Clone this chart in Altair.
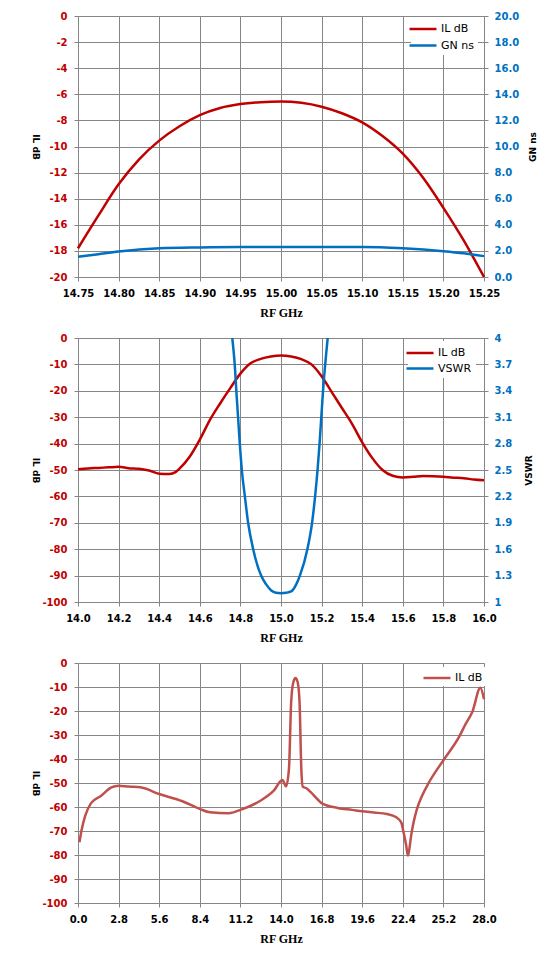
import altair as alt
import pandas as pd

# ---------------- data ----------------
# Chart 1: narrow band
f1 = [14.750, 14.775, 14.800, 14.825, 14.850, 14.875, 14.900, 14.925, 14.950, 14.975,
      15.000, 15.025, 15.050, 15.075, 15.100, 15.125, 15.150, 15.175, 15.200, 15.225, 15.250]
il1 = [-17.8, -15.3, -12.9, -11.0, -9.55, -8.45, -7.6, -7.05, -6.75, -6.6,
       -6.55, -6.65, -6.95, -7.45, -8.15, -9.2, -10.55, -12.4, -14.7, -17.2, -20.0]
fgn = [14.75, 14.775, 14.80, 14.85, 14.90, 14.95, 15.00, 15.05, 15.10, 15.15, 15.20, 15.225, 15.25]
gn = [1.55, 1.75, 1.95, 2.2, 2.27, 2.3, 2.3, 2.3, 2.3, 2.2, 1.98, 1.82, 1.6]

# Chart 2: medium band
f2 = [14.00, 14.05, 14.10, 14.15, 14.20, 14.25, 14.30, 14.35, 14.40, 14.45, 14.48, 14.50,
      14.55, 14.60, 14.65, 14.70, 14.75, 14.80, 14.85, 14.90, 14.95, 15.00, 15.05, 15.10,
      15.15, 15.20, 15.25, 15.30, 15.35, 15.40, 15.45, 15.50, 15.55, 15.60, 15.65, 15.70,
      15.75, 15.80, 15.85, 15.90, 15.95, 16.00]
il2 = [-49.7, -49.4, -49.2, -49.0, -48.8, -49.3, -49.5, -50.2, -51.4, -51.5, -50.8, -49.5,
       -45.0, -38.5, -31.0, -24.8, -19.0, -13.5, -9.6, -7.9, -7.0, -6.6, -7.0, -8.0,
       -10.0, -14.5, -20.5, -26.5, -32.5, -39.5, -45.5, -50.0, -52.2, -52.8, -52.6, -52.3,
       -52.4, -52.6, -52.9, -53.1, -53.6, -53.9]
fvs = [14.760, 14.772, 14.780, 14.797, 14.807, 14.822, 14.838, 14.863, 14.902, 14.927,
       14.952, 14.975, 15.000, 15.025, 15.050, 15.075, 15.093, 15.130, 15.153, 15.168,
       15.180, 15.190, 15.207, 15.230]
vswr = [4.0, 3.7, 3.4, 2.8, 2.5, 2.2, 1.9, 1.6, 1.3, 1.2,
        1.13, 1.105, 1.10, 1.105, 1.12, 1.2, 1.3, 1.6, 1.9, 2.2,
        2.5, 2.8, 3.4, 4.0]

# Chart 3: wide band
f3 = [0.1, 0.24, 0.5, 0.9, 1.6, 2.3, 2.8, 3.5, 4.3, 5.6, 7.2, 8.4, 9.1, 10.4, 11.2, 12.6,
      13.5, 14.1, 14.35, 14.55, 14.7, 14.85, 15.0, 15.15, 15.28, 15.4, 15.5, 15.75, 16.0,
      16.6, 16.8, 17.9, 18.9, 19.6, 20.4, 21.3, 21.95, 22.3, 22.45, 22.63, 22.75, 22.84,
      22.98, 23.15, 23.38, 23.73, 24.2, 25.2, 26.3, 26.7, 27.2, 27.75, 28.0]
il3 = [-74.7, -69.8, -63.6, -58.4, -55.3, -51.8, -51.1, -51.5, -51.8, -54.6, -57.6, -60.8,
       -62.2, -62.6, -61.2, -57.3, -53.2, -48.8, -51.4, -44.0, -16.4, -8.0, -6.3, -8.0,
       -16.4, -44.0, -51.5, -52.2, -53.5, -57.3, -58.4, -60.4, -61.2, -61.8, -62.3, -62.9,
       -64.3, -66.5, -70.5, -75.8, -80.2, -77.9, -71.7, -66.2, -60.8, -55.3, -49.8, -40.5,
       -30.6, -25.8, -20.3, -10.3, -15.1]

x1_ticks = [14.75, 14.80, 14.85, 14.90, 14.95, 15.00, 15.05, 15.10, 15.15, 15.20, 15.25]
x2_ticks = [14.0, 14.2, 14.4, 14.6, 14.8, 15.0, 15.2, 15.4, 15.6, 15.8, 16.0]
x3_ticks = [0.0, 2.8, 5.6, 8.4, 11.2, 14.0, 16.8, 19.6, 22.4, 25.2, 28.0]
y1_ticks = [-20, -18, -16, -14, -12, -10, -8, -6, -4, -2, 0]
y1r_ticks = [0, 2, 4, 6, 8, 10, 12, 14, 16, 18, 20]
y2_ticks = [-100, -90, -80, -70, -60, -50, -40, -30, -20, -10, 0]
y2r_ticks = [1, 1.3, 1.6, 1.9, 2.2, 2.5, 2.8, 3.1, 3.4, 3.7, 4]

# ---------------- style ----------------
RED = "#C00000"
BLUE = "#0070C0"
RED3 = "#C0504D"
GRID = "#868686"
LBL = "DejaVu Sans"
W = 406
H1, H2, H3 = 261, 264, 240
HYPHEN = "replace(datum.label, '\u2212', '-')"


def x_axis(values, fmt):
    return alt.Axis(values=values, format=fmt, grid=True, gridColor=GRID, gridWidth=1,
                    domainColor=GRID, tickColor=GRID, tickSize=4,
                    labelFont=LBL, labelFontSize=10, labelFontWeight="bold",
                    labelColor="black", labelPadding=7, labelFlush=False, labelOverlap=False,
                    title="RF GHz", titleFont="Liberation Serif", titleFontSize=12,
                    titleFontWeight="bold", titleColor="black", titlePadding=9)


def left_axis(values, fmt, h):
    return alt.Axis(orient="left", values=values, format=fmt, grid=True, gridColor=GRID,
                    gridWidth=1, domainColor=GRID, tickColor=GRID, tickSize=4,
                    labelFont=LBL, labelFontSize=10, labelFontWeight="bold",
                    labelColor=RED, labelPadding=7, labelOverlap=False, labelExpr=HYPHEN,
                    title="IL dB", titleFont=LBL, titleFontSize=9, titleFontWeight="bold",
                    titleColor="black", titleAngle=90, titleX=-43, titleY=h / 2,
                    titleAlign="center", titleBaseline="middle")


def right_axis(values, fmt, title, tx, h):
    return alt.Axis(orient="right", values=values, format=fmt, grid=False,
                    domainColor=GRID, tickColor=GRID, tickSize=4,
                    labelFont=LBL, labelFontSize=10, labelFontWeight="bold",
                    labelColor=BLUE, labelPadding=6, labelOverlap=False,
                    title=title, titleFont=LBL, titleFontSize=9, titleFontWeight="bold",
                    titleColor="black", titleAngle=270, titleX=tx, titleY=h / 2,
                    titleAlign="center", titleBaseline="middle")


def legend(x, y, pad, rowpad):
    return alt.Legend(orient="none", legendX=x, legendY=y, title=None,
                      symbolType="M-2,0H2", symbolSize=182, symbolStrokeWidth=2.5,
                      labelFont=LBL, labelFontSize=11, labelColor="black",
                      fillColor="white", padding=pad, rowPadding=rowpad, labelOffset=10)


# ---------------- chart 1 ----------------
d1a = pd.DataFrame({"f": f1, "v": il1, "s1": "IL dB"})
d1b = pd.DataFrame({"f": fgn, "v": gn, "s1": "GN ns"})
col1 = alt.Scale(domain=["IL dB", "GN ns"], range=[RED, BLUE])
xs1 = alt.Scale(domain=[14.75, 15.25], nice=False, zero=False)

c1a = alt.Chart(d1a).mark_line(strokeWidth=2.5, interpolate="monotone").encode(
    x=alt.X("f:Q", scale=xs1, axis=x_axis(x1_ticks, ".2f")),
    y=alt.Y("v:Q", scale=alt.Scale(domain=[-20, 0], nice=False), axis=left_axis(y1_ticks, "d", H1)),
    color=alt.Color("s1:N", scale=col1, legend=legend(333, 1, 4, 3.5)),
)
c1b = alt.Chart(d1b).mark_line(strokeWidth=2.5, interpolate="monotone").encode(
    x=alt.X("f:Q", scale=xs1),
    y=alt.Y("v:Q", scale=alt.Scale(domain=[0, 20], nice=False),
            axis=right_axis(y1r_ticks, ".1f", "GN ns", 48, H1)),
    color=alt.Color("s1:N", scale=col1),
)
ch1 = alt.layer(c1a, c1b).resolve_scale(y="independent").properties(width=W, height=H1)

# ---------------- chart 2 ----------------
d2a = pd.DataFrame({"f": f2, "v": il2, "s2": "IL dB"})
d2b = pd.DataFrame({"f": fvs, "v": vswr, "s2": "VSWR"})
col2 = alt.Scale(domain=["IL dB", "VSWR"], range=[RED, BLUE])
xs2 = alt.Scale(domain=[14.0, 16.0], nice=False, zero=False)

c2a = alt.Chart(d2a).mark_line(strokeWidth=2.5, interpolate="monotone").encode(
    x=alt.X("f:Q", scale=xs2, axis=x_axis(x2_ticks, ".1f")),
    y=alt.Y("v:Q", scale=alt.Scale(domain=[-100, 0], nice=False), axis=left_axis(y2_ticks, "d", H2)),
    color=alt.Color("s2:N", scale=col2, legend=legend(330, 3, 4, 2.5)),
)
c2b = alt.Chart(d2b).mark_line(strokeWidth=2.5, interpolate="monotone", clip=True).encode(
    x=alt.X("f:Q", scale=xs2),
    y=alt.Y("v:Q", scale=alt.Scale(domain=[1, 4], nice=False, zero=False),
            axis=right_axis(y2r_ticks, ".1~f", "VSWR", 44, H2)),
    color=alt.Color("s2:N", scale=col2),
)
ch2 = alt.layer(c2a, c2b).resolve_scale(y="independent").properties(width=W, height=H2)

# ---------------- chart 3 ----------------
d3 = pd.DataFrame({"f": f3, "v": il3, "s3": "IL dB"})
col3 = alt.Scale(domain=["IL dB"], range=[RED3])
ch3 = alt.Chart(d3).mark_line(strokeWidth=2.5, interpolate="monotone").encode(
    x=alt.X("f:Q", scale=alt.Scale(domain=[0, 28], nice=False, zero=False),
            axis=x_axis(x3_ticks, ".1f")),
    y=alt.Y("v:Q", scale=alt.Scale(domain=[-100, 0], nice=False), axis=left_axis(y2_ticks, "d", H3)),
    color=alt.Color("s3:N", scale=col3, legend=legend(348, 4, 3, 2)),
).properties(width=W, height=H3)

chart = alt.vconcat(ch1, ch2, ch3, spacing=13).resolve_scale(color="independent").properties(
    padding={"left": 21, "top": 2, "right": 5, "bottom": 5}
).configure_view(strokeWidth=0).configure(background="white")

chart.save("out.html", embed_options={"renderer": "svg", "actions": False})
